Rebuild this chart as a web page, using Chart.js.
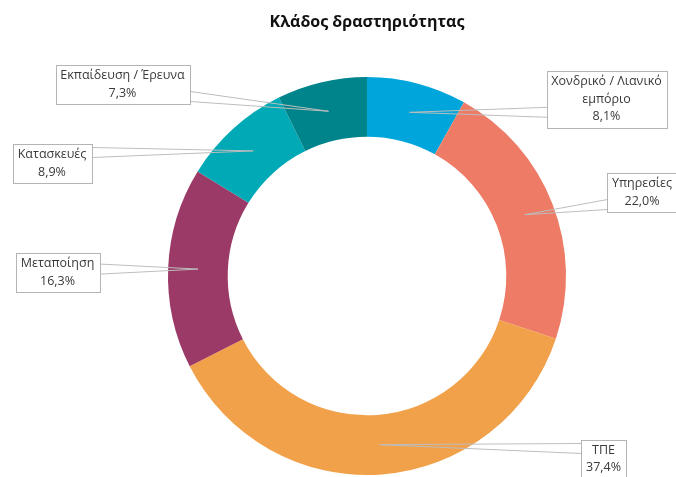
<!DOCTYPE html>
<html>
<head>
<meta charset="utf-8">
<script src="https://cdn.jsdelivr.net/npm/chart.js@4/dist/chart.umd.min.js"></script>
<style>
  html, body { margin: 0; padding: 0; background: #ffffff; }
  #wrap { width: 676px; height: 477px; position: relative; }
</style>
</head>
<body>
<div id="wrap"><canvas id="c"></canvas></div>
<script>
// ---- Data ----
const chartTitle = 'Κλάδος δραστηριότητας';
const categories = [
  'Χονδρικό / Λιανικό εμπόριο',
  'Υπηρεσίες',
  'ΤΠΕ',
  'Μεταποίηση',
  'Κατασκευές',
  'Εκπαίδευση / Έρευνα'
];
const shares = [8.1, 22.0, 37.4, 16.3, 8.9, 7.3];
const sliceColors = ['#00A5DB', '#EE7B65', '#F2A14B', '#9B3A66', '#00A9B6', '#00848C'];

// ---- Layout (label box centres, in canvas pixels) ----
const labelBoxCenters = [
  [606.5, 99],
  [642, 192.5],
  [603.5, 459],
  [57.5, 272.5],
  [52, 163.5],
  [122.5, 84.5]
];

const FONT_FAMILY = '"Open Sans", "Noto Sans", "DejaVu Sans", sans-serif';

function wrapText(ctx, text, maxW) {
  const words = text.split(' ');
  const lines = [];
  let cur = '';
  for (const w of words) {
    const test = cur ? cur + ' ' + w : w;
    if (ctx.measureText(test).width > maxW && cur) {
      lines.push(cur);
      cur = w;
    } else {
      cur = test;
    }
  }
  if (cur) lines.push(cur);
  return lines;
}

const calloutPlugin = {
  id: 'callouts',
  afterDraw(chart) {
    const ctx = chart.ctx;
    // Title
    ctx.save();
    ctx.font = 'bold 16px ' + FONT_FAMILY;
    ctx.fillStyle = '#111111';
    ctx.textAlign = 'center';
    ctx.textBaseline = 'middle';
    ctx.fillText(chartTitle, 367, 22);
    ctx.restore();

    const meta = chart.getDatasetMeta(0);
    ctx.save();
    ctx.font = '12.5px ' + FONT_FAMILY;
    const lineH = 17.5;
    meta.data.forEach((arc, i) => {
      const p = arc.getProps(['x', 'y', 'startAngle', 'endAngle', 'innerRadius', 'outerRadius'], true);
      const mid = (p.startAngle + p.endAngle) / 2;
      const rm = (p.innerRadius + p.outerRadius) / 2;
      const tx = p.x + Math.cos(mid) * rm;
      const ty = p.y + Math.sin(mid) * rm;

      const lines = wrapText(ctx, categories[i], 135);
      lines.push(shares[i].toFixed(1).replace('.', ',') + '%');
      let maxW = 0;
      lines.forEach(l => { maxW = Math.max(maxW, ctx.measureText(l).width); });
      const bw = Math.round(maxW + 10);
      const bh = Math.round(lines.length * lineH + 4);
      const [cx, cy] = labelBoxCenters[i];
      const left = Math.round(cx - bw / 2) + 0.5;
      const top = Math.round(cy - bh / 2) + 0.5;
      const right = left + bw;
      const bottom = top + bh;

      // leader wedge
      const edgeX = tx < left ? left : right;
      const by = Math.min(Math.max(ty, top + 8), bottom - 8);
      ctx.strokeStyle = '#bdbdbd';
      ctx.lineWidth = 1;
      ctx.beginPath();
      ctx.moveTo(tx, ty);
      ctx.lineTo(edgeX, by - 5);
      ctx.moveTo(tx, ty);
      ctx.lineTo(edgeX, by + 5);
      ctx.stroke();

      // box
      ctx.fillStyle = '#ffffff';
      ctx.fillRect(left, top, bw, bh);
      ctx.strokeStyle = '#b4b4b4';
      ctx.strokeRect(left, top, bw, bh);

      // text
      ctx.fillStyle = '#3a3a3a';
      ctx.textAlign = 'center';
      ctx.textBaseline = 'middle';
      const startY = cy - (lines.length - 1) * lineH / 2;
      lines.forEach((l, k) => ctx.fillText(l, cx, startY + k * lineH));
    });
    ctx.restore();
  }
};

new Chart(document.getElementById('c'), {
  type: 'doughnut',
  data: {
    labels: categories,
    datasets: [{
      data: shares,
      backgroundColor: sliceColors,
      borderWidth: 0,
      hoverOffset: 0
    }]
  },
  options: {
    responsive: true,
    maintainAspectRatio: false,
    animation: false,
    cutout: '70%',
    layout: { padding: { top: 77, bottom: 2, left: 168, right: 110 } },
    plugins: {
      legend: { display: false },
      tooltip: { enabled: false },
      title: { display: false }
    }
  },
  plugins: [calloutPlugin]
});
</script>
</body>
</html>
